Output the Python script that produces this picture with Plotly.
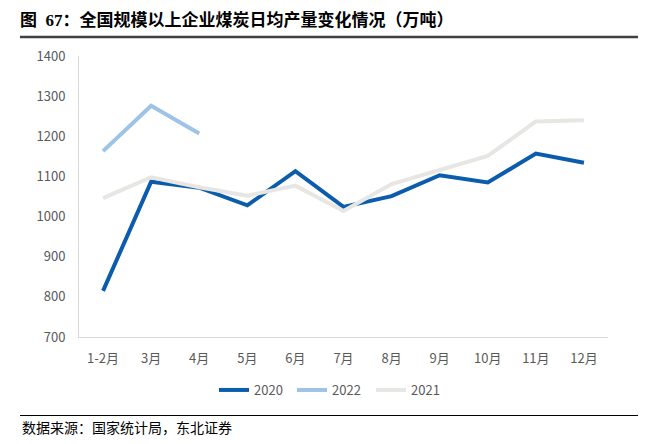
import plotly.graph_objects as go

months = ["1-2月", "3月", "4月", "5月", "6月", "7月", "8月", "9月", "10月", "11月", "12月"]
y2020 = [815, 1087, 1072, 1028, 1113, 1024, 1051, 1103, 1085, 1157, 1134]
y2022 = [1163, 1276, 1207]
y2021 = [1046, 1098, 1073, 1052, 1077, 1014, 1081, 1116, 1151, 1237, 1240]

# page body has an 8px margin; work in reference (window) pixels and shift
OFF = 8
W, H = 671 - OFF, 444 - OFF
PL, PR, PT, PB = 79, 608, 56, 337  # plot area in window pixels
L, T = PL - OFF, PT - OFF
R, B = W - (PR - OFF), H - (PB - OFF)
pw, ph = PR - PL, PB - PT

def px(x):
    return (x - PL) / pw

def py(y):
    return (PB - y) / ph

FONT = "Noto Sans CJK SC"
TICK = "#595959"

series = [
    ("2020", months, y2020, "#0B5CAD", "legend", 214),
    ("2022", months[:len(y2022)], y2022, "#9DC3E6", "legend2", 292),
    ("2021", months, y2021, "#E7E6E3", "legend3", 371),
]

fig = go.Figure()
legends = {}
for name, xs, ys, color, lg, lx in series:
    fig.add_trace(go.Scatter(x=xs, y=ys, name=name, mode="lines", legend=lg,
                             line=dict(color=color, width=4)))
    legends[lg] = dict(orientation="h", x=px(lx), xanchor="left", y=py(390), yanchor="middle",
                       font=dict(size=13, color=TICK), itemwidth=30, bgcolor="rgba(0,0,0,0)")

fig.update_layout(
    width=W, height=H,
    margin=dict(l=L, r=R, t=T, b=B),
    paper_bgcolor="white", plot_bgcolor="white",
    font=dict(family=FONT, color=TICK, size=13),
    showlegend=True,
    **legends,
    xaxis=dict(type="category", range=[-0.5, 10.5], showgrid=False, showline=True,
               linecolor="#d9d9d9", linewidth=1, ticks="", ticklabelstandoff=9,
               tickfont=dict(size=13, color=TICK)),
    yaxis=dict(range=[700, 1400], dtick=100, showgrid=False, showline=True,
               linecolor="#d9d9d9", linewidth=1, ticks="", zeroline=False, ticklabelstandoff=10,
               tickfont=dict(size=13, color=TICK)),
    title=dict(text="图  67：全国规模以上企业煤炭日均产量变化情况（万吨）", xref="container", yref="container",
               x=(20 - OFF) / W, xanchor="left", y=1 - (20 - OFF) / H, yanchor="middle",
               font=dict(family="Liberation Serif, " + FONT, size=17, color="#000000", weight="bold")),
)

fig.add_shape(type="line", xref="paper", yref="paper", x0=px(20), x1=px(638), y0=py(37), y1=py(37),
              line=dict(color="#404040", width=2.5))
fig.add_shape(type="line", xref="paper", yref="paper", x0=px(20), x1=px(638), y0=py(415.5), y1=py(415.5),
              line=dict(color="#000000", width=1))
fig.add_annotation(text="数据来源：国家统计局，东北证券", xref="paper", yref="paper", x=px(20), y=py(427),
                   xanchor="left", yanchor="middle", showarrow=False,
                   font=dict(family=FONT, size=14, color="#000000"))

fig.write_html("out.html")
